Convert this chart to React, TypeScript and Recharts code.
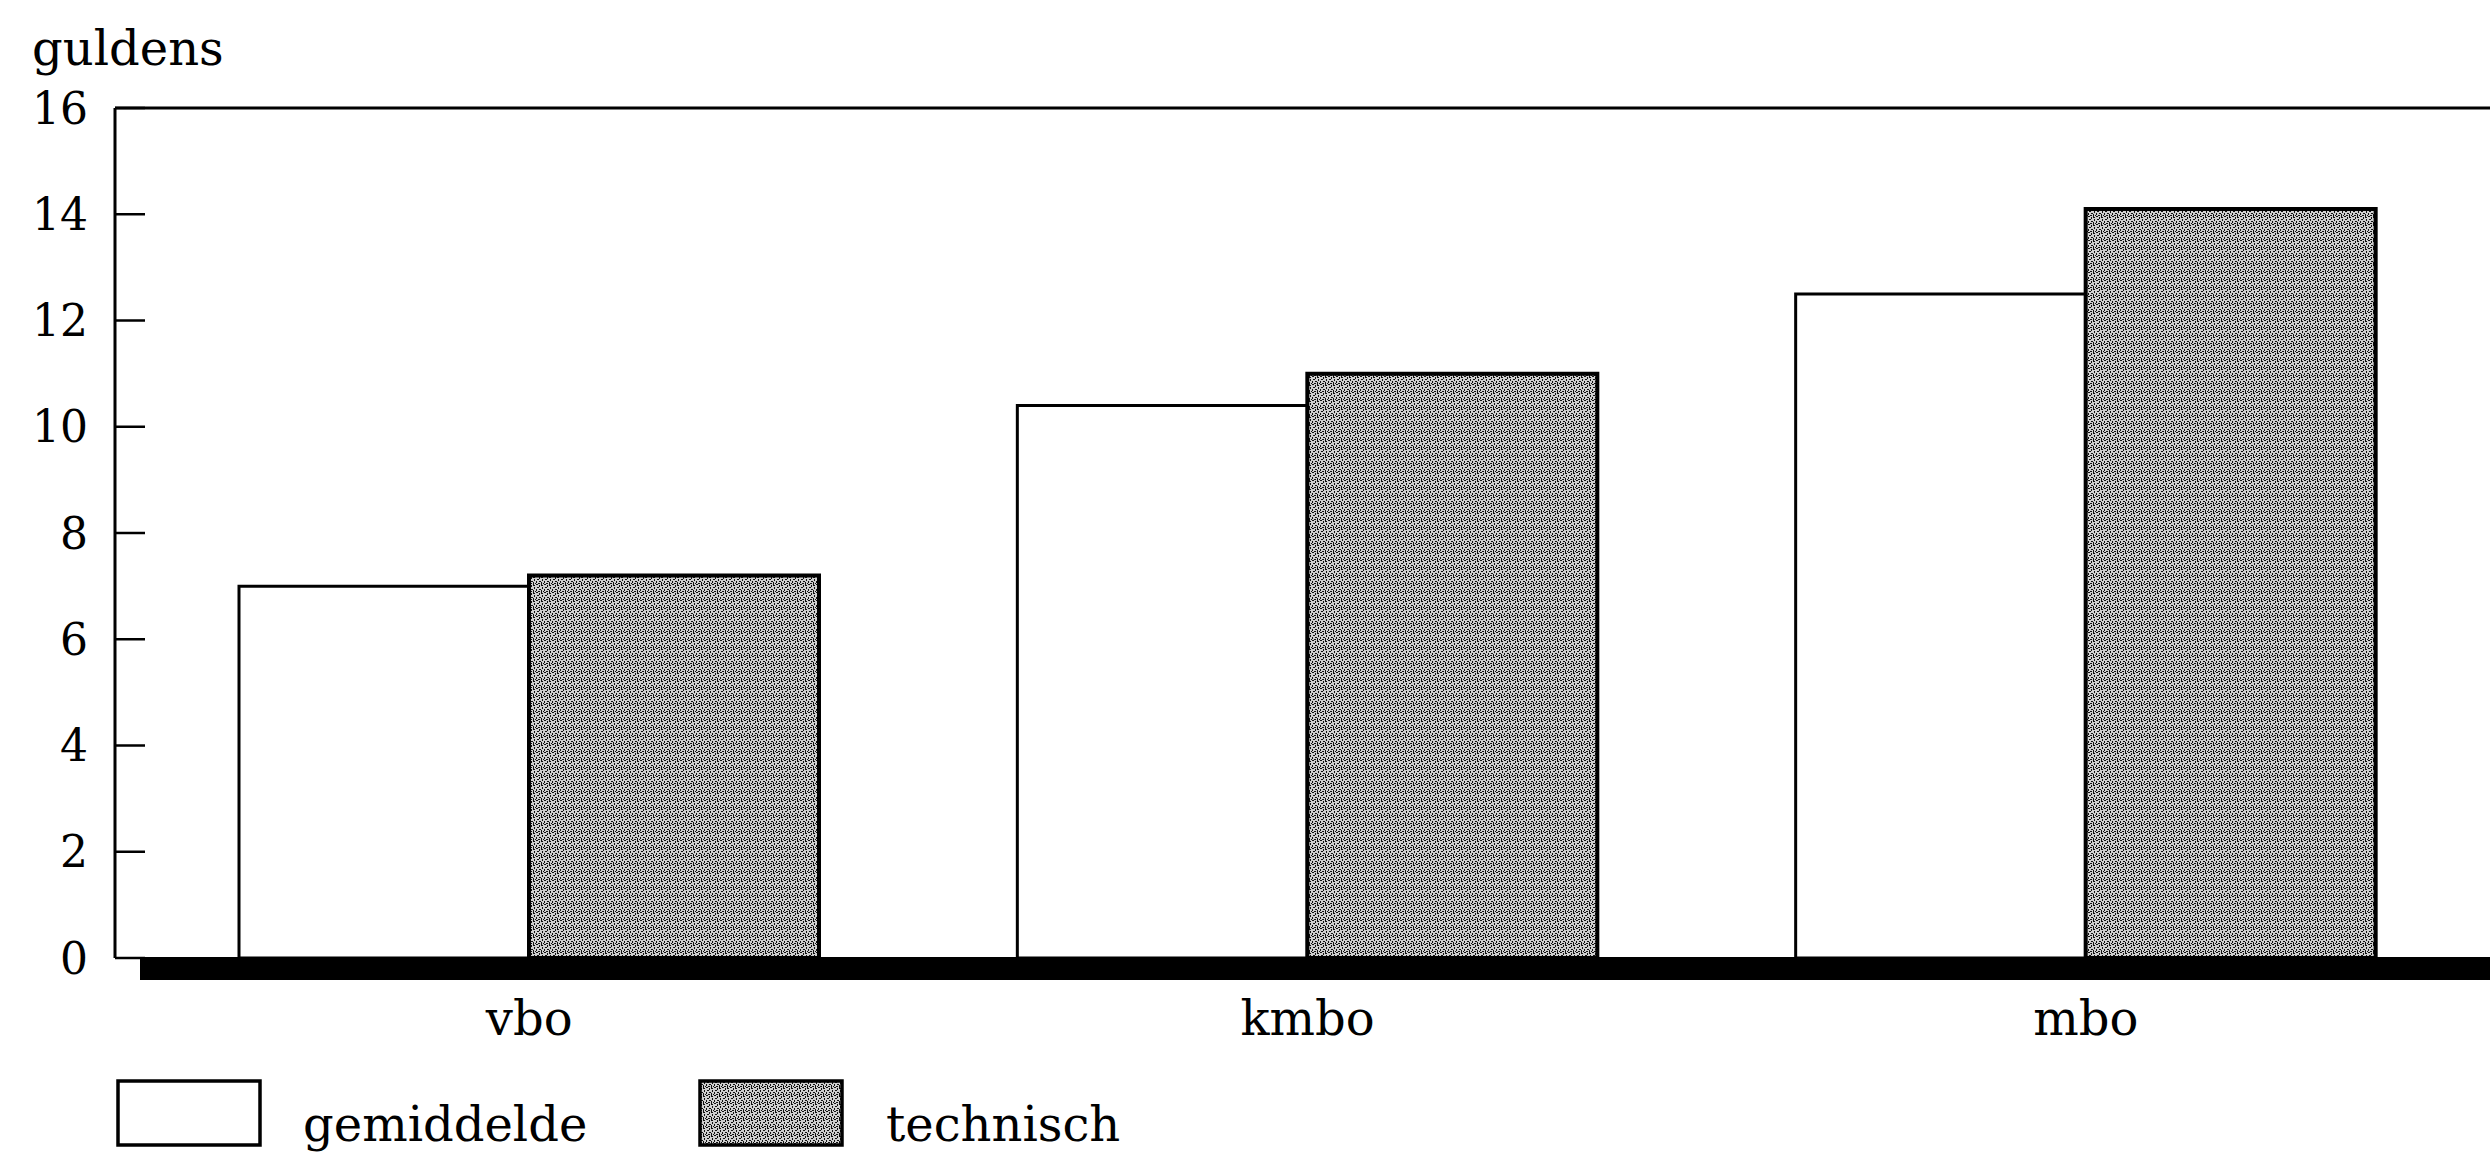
import { Bar, BarChart, ReferenceLine, XAxis, YAxis } from "recharts";

const categories = ["vbo", "kmbo", "mbo"];
const gemiddelde = [7.0, 10.4, 12.5];
const technisch = [7.2, 11.0, 14.1];
const yTicks = [0, 2, 4, 6, 8, 10, 12, 14, 16];
const legendItems = [
  { key: "gemiddelde", label: "gemiddelde", fill: "#fff" },
  { key: "technisch", label: "technisch", fill: "url(#stip)" },
];

const data = categories.map((cat, i) => ({
  cat,
  gemiddelde: gemiddelde[i],
  technisch: technisch[i],
}));

const FONT = '"DejaVu Serif", serif';

// thick base bar sitting just under the zero line
function BaseLine(p: any) {
  return <rect x={p.x1 + 25} y={p.y1} width={p.x2 - p.x1 - 25} height={22} fill="#000" />;
}

export default function App() {
  return (
    <div
      style={{
        position: "absolute",
        left: 0,
        top: 0,
        width: 2490,
        height: 1159,
        background: "#fff",
        fontFamily: FONT,
        overflow: "hidden",
      }}
    >
      <BarChart
        width={2490}
        height={1159}
        data={data}
        margin={{ top: 108, right: 0, bottom: 0, left: 0 }}
        barGap={0}
      >
        <defs>
          <pattern id="stip" width="8" height="8" patternUnits="userSpaceOnUse">
            <rect width="8" height="8" fill="#cfcfcf" />
            <path
              d="M0 0h2v1H0zM3 1h1v2H3zM5 0h1v1h1v1H5zM1 3h2v1H1zM6 3h1v2H6zM0 5h1v2H0zM3 5h2v1H3zM2 7h2v1H2zM5 6h1v2H5zM7 7h1v1H7z"
              fill="#111"
            />
          </pattern>
        </defs>
        <XAxis
          dataKey="cat"
          height={201}
          axisLine={{ stroke: "#000", strokeWidth: 2 }}
          tickLine={false}
          tickMargin={37}
          padding={{ left: 25, right: 15 }}
          tick={{ fill: "#000", fontSize: 48, fontFamily: FONT }}
        />
        <YAxis
          width={115}
          domain={[0, 16]}
          ticks={yTicks}
          interval={0}
          tickSize={-30}
          tickMargin={57}
          axisLine={{ stroke: "#000", strokeWidth: 3 }}
          tickLine={{ stroke: "#000", strokeWidth: 2.5 }}
          tick={{ fill: "#000", fontSize: 44, fontFamily: FONT }}
          label={{
            content: () => (
              <text x={32} y={65} fontSize={48} fontFamily={FONT} fill="#000">
                guldens
              </text>
            ),
          }}
        />
        <ReferenceLine y={16} stroke="#000" strokeWidth={3} />
        <Bar
          dataKey="gemiddelde"
          fill="#fff"
          stroke="#000"
          strokeWidth={3}
          barSize={290}
          isAnimationActive={false}
        />
        <Bar
          dataKey="technisch"
          fill="url(#stip)"
          stroke="#000"
          strokeWidth={4}
          barSize={290}
          isAnimationActive={false}
        />
        <ReferenceLine y={0} shape={BaseLine} />
      </BarChart>

      {legendItems.map((it, i) => (
        <div key={it.key}>
          <svg
            width={146}
            height={68}
            style={{ position: "absolute", left: 116 + i * 582, top: 1079 }}
          >
            <rect x={2} y={2} width={142} height={64} fill={it.fill} stroke="#000" strokeWidth={3.5} />
          </svg>
          <div
            style={{
              position: "absolute",
              left: 303 + i * 583,
              top: 1094,
              fontSize: 48,
              lineHeight: "60px",
              color: "#000",
              whiteSpace: "nowrap",
            }}
          >
            {it.label}
          </div>
        </div>
      ))}
    </div>
  );
}
